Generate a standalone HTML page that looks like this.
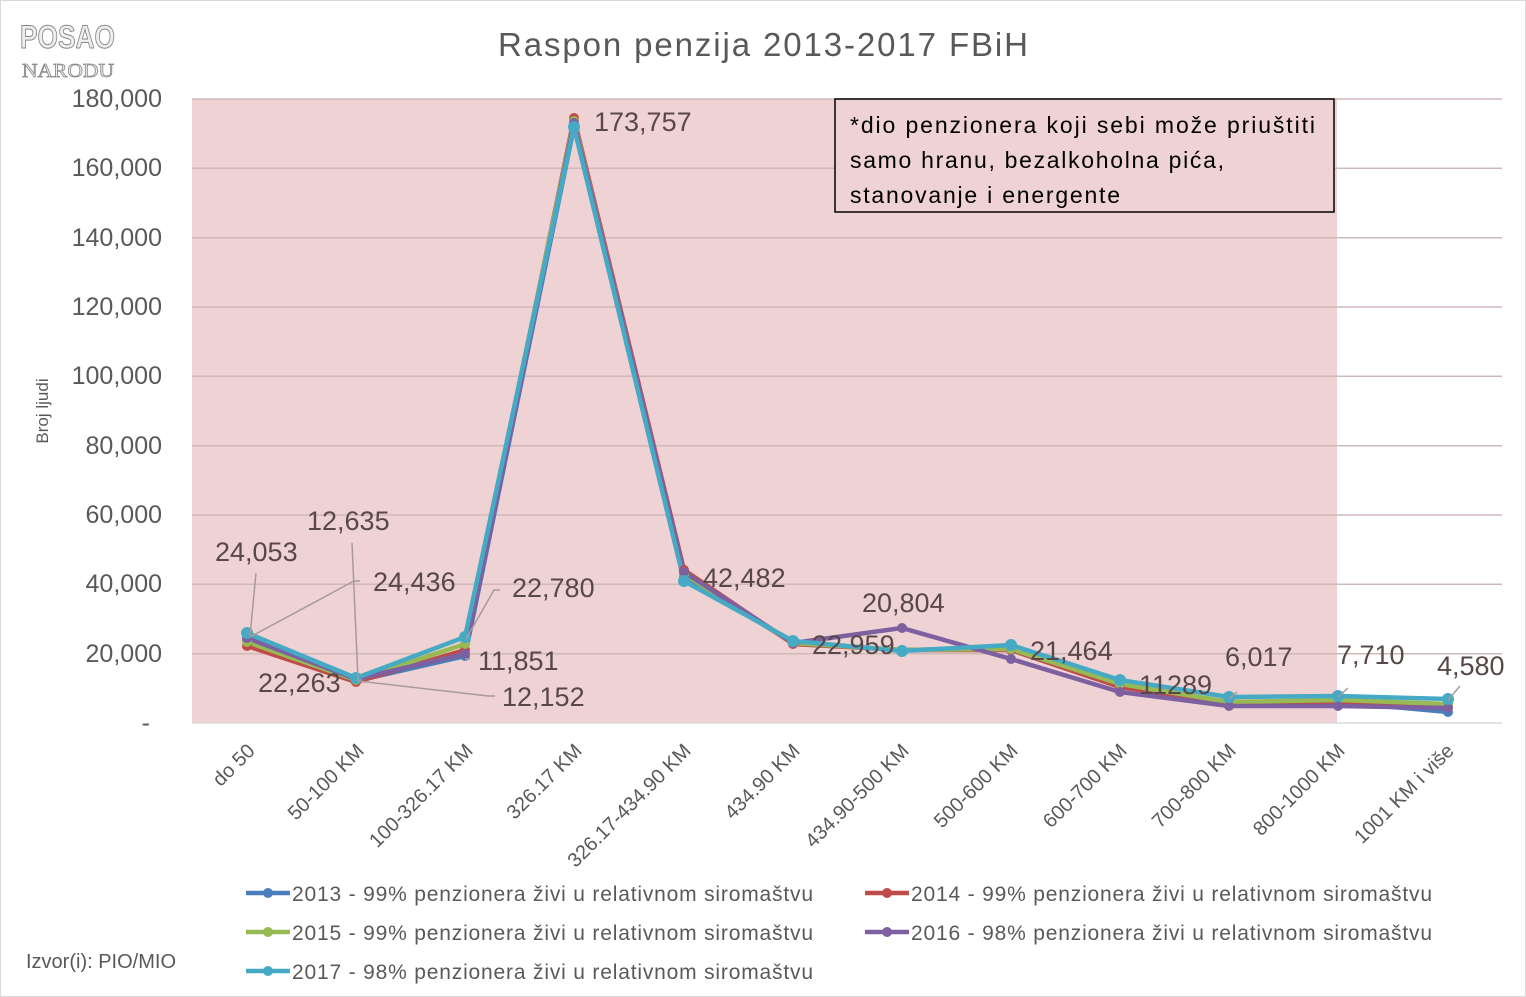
<!DOCTYPE html>
<html><head><meta charset="utf-8"><style>
body{margin:0;background:#fff;}
svg{display:block;font-family:"Liberation Sans","DejaVu Sans",sans-serif;}
</style></head><body>
<svg width="1526" height="997" viewBox="0 0 1526 997" xmlns="http://www.w3.org/2000/svg">
<rect x="0.5" y="0.5" width="1525" height="996" fill="#fff" stroke="#d9d9d9"/>
<text x="20" y="48" font-size="32" font-weight="bold" fill="#eeeeee" stroke="#888" stroke-width="1" lengthAdjust="spacingAndGlyphs" textLength="95">POSAO</text>
<text x="22" y="77" font-size="20" fill="#eeeeee" stroke="#888" stroke-width="0.8" font-family="Liberation Serif,serif" lengthAdjust="spacingAndGlyphs" textLength="92">NARODU</text>
<text x="498" y="56" font-size="33" fill="#595959" textLength="530">Raspon penzija 2013-2017 FBiH</text>
<rect x="192" y="99" width="1145" height="624" fill="#efd3d4"/>
<g stroke="#d0b8b9" stroke-width="1.5">
<line x1="192" y1="99" x2="1502" y2="99"/><line x1="192" y1="168.3" x2="1502" y2="168.3"/>
<line x1="192" y1="237.7" x2="1502" y2="237.7"/><line x1="192" y1="307" x2="1502" y2="307"/>
<line x1="192" y1="376.3" x2="1502" y2="376.3"/><line x1="192" y1="445.7" x2="1502" y2="445.7"/>
<line x1="192" y1="515" x2="1502" y2="515"/><line x1="192" y1="584.3" x2="1502" y2="584.3"/>
<line x1="192" y1="653.7" x2="1502" y2="653.7"/>
</g>
<line x1="192" y1="723" x2="1502" y2="723" stroke="#d9d9d9" stroke-width="1.5"/>
<g font-size="25" fill="#595959" text-anchor="end">
<text x="162" y="107">180,000</text><text x="162" y="176">160,000</text><text x="162" y="246">140,000</text>
<text x="162" y="315">120,000</text><text x="162" y="384">100,000</text><text x="162" y="454">80,000</text>
<text x="162" y="523">60,000</text><text x="162" y="592">40,000</text><text x="162" y="662">20,000</text>
<text x="150" y="731">-</text>
</g>
<text transform="translate(48,411) rotate(-90)" font-size="17" fill="#595959" text-anchor="middle">Broj ljudi</text>
<g font-size="20" fill="#595959" text-anchor="end">
<text transform="translate(256,752) rotate(-45)">do 50</text>
<text transform="translate(365,752) rotate(-45)">50-100 KM</text>
<text transform="translate(474,752) rotate(-45)">100-326.17 KM</text>
<text transform="translate(583,752) rotate(-45)">326.17 KM</text>
<text transform="translate(692,752) rotate(-45)">326.17-434.90 KM</text>
<text transform="translate(801,752) rotate(-45)">434.90 KM</text>
<text transform="translate(910,752) rotate(-45)">434.90-500 KM</text>
<text transform="translate(1019,752) rotate(-45)">500-600 KM</text>
<text transform="translate(1128,752) rotate(-45)">600-700 KM</text>
<text transform="translate(1237,752) rotate(-45)">700-800 KM</text>
<text transform="translate(1346,752) rotate(-45)">800-1000 KM</text>
<text transform="translate(1455,752) rotate(-45)">1001 KM i više</text>
</g>
<g fill="none" stroke-width="4.5" stroke-linejoin="round">
<polyline stroke="#4a7ebb" points="247,640 356,681 465,656 574,127 684,576 793,643 902,650 1011,648 1120,685 1229,702 1338,702 1448,712"/>
<polyline stroke="#be4b48" points="247,646 356,682 465,650 574,118 684,570 793,644 902,650 1011,650 1120,687 1229,704 1338,704 1448,707"/>
<polyline stroke="#98b954" points="247,642 356,680 465,644 574,121 684,574 793,643 902,650 1011,649 1120,684 1229,702 1338,700 1448,704"/>
<polyline stroke="#7d60a0" points="247,638 356,679 465,654 574,123 684,572 793,643 902,628 1011,659 1120,692 1229,706 1338,706 1448,708"/>
<polyline stroke="#46aac5" points="247,633 356,678 465,637 574,127 684,581 793,641 902,651 1011,645 1120,680 1229,697 1338,696 1448,699"/>
</g>
<g>
<g fill="#4a7ebb"><circle cx="247" cy="640" r="5"/><circle cx="356" cy="681" r="5"/><circle cx="465" cy="656" r="5"/><circle cx="574" cy="127" r="5"/><circle cx="684" cy="576" r="5"/><circle cx="793" cy="643" r="5"/><circle cx="902" cy="650" r="5"/><circle cx="1011" cy="648" r="5"/><circle cx="1120" cy="685" r="5"/><circle cx="1229" cy="702" r="5"/><circle cx="1338" cy="702" r="5"/><circle cx="1448" cy="712" r="5"/></g>
<g fill="#be4b48"><circle cx="247" cy="646" r="5"/><circle cx="356" cy="682" r="5"/><circle cx="465" cy="650" r="5"/><circle cx="574" cy="118" r="5"/><circle cx="684" cy="570" r="5"/><circle cx="793" cy="644" r="5"/><circle cx="902" cy="650" r="5"/><circle cx="1011" cy="650" r="5"/><circle cx="1120" cy="687" r="5"/><circle cx="1229" cy="704" r="5"/><circle cx="1338" cy="704" r="5"/><circle cx="1448" cy="707" r="5"/></g>
<g fill="#98b954"><circle cx="247" cy="642" r="5"/><circle cx="356" cy="680" r="5"/><circle cx="465" cy="644" r="5"/><circle cx="574" cy="121" r="5"/><circle cx="684" cy="574" r="5"/><circle cx="793" cy="643" r="5"/><circle cx="902" cy="650" r="5"/><circle cx="1011" cy="649" r="5"/><circle cx="1120" cy="684" r="5"/><circle cx="1229" cy="702" r="5"/><circle cx="1338" cy="700" r="5"/><circle cx="1448" cy="704" r="5"/></g>
<g fill="#7d60a0"><circle cx="247" cy="638" r="5"/><circle cx="356" cy="679" r="5"/><circle cx="465" cy="654" r="5"/><circle cx="574" cy="123" r="5"/><circle cx="684" cy="572" r="5"/><circle cx="793" cy="643" r="5"/><circle cx="902" cy="628" r="5"/><circle cx="1011" cy="659" r="5"/><circle cx="1120" cy="692" r="5"/><circle cx="1229" cy="706" r="5"/><circle cx="1338" cy="706" r="5"/><circle cx="1448" cy="708" r="5"/></g>
<g fill="#46aac5"><circle cx="247" cy="633" r="6"/><circle cx="356" cy="678" r="6"/><circle cx="465" cy="637" r="6"/><circle cx="574" cy="127" r="6"/><circle cx="684" cy="581" r="6"/><circle cx="793" cy="641" r="6"/><circle cx="902" cy="651" r="6"/><circle cx="1011" cy="645" r="6"/><circle cx="1120" cy="680" r="6"/><circle cx="1229" cy="697" r="6"/><circle cx="1338" cy="696" r="6"/><circle cx="1448" cy="699" r="6"/></g>
</g>
<g stroke="#a89a9a" stroke-width="1.5" fill="none">
<polyline points="256,573 250,636"/>
<polyline points="360,581 354,581 250,637"/>
<polyline points="352,543 358,680"/>
<polyline points="500,590 494,590 466,639"/>
<polyline points="495,696 488,696 358,681"/>
<polyline points="470,659 465,659"/>
<line x1="1237" y1="692" x2="1229" y2="699"/>
<line x1="1348" y1="688" x2="1338" y2="697"/>
<line x1="1460" y1="686" x2="1448" y2="700"/>
</g>
<g font-size="27" fill="#584848">
<text x="215" y="561">24,053</text>
<text x="307" y="530">12,635</text>
<text x="373" y="591">24,436</text>
<text x="512" y="597">22,780</text>
<text x="478" y="670">11,851</text>
<text x="258" y="692">22,263</text>
<text x="502" y="706">12,152</text>
<text x="594" y="131">173,757</text>
<text x="703" y="587">42,482</text>
<text x="812" y="654">22,959</text>
<text x="862" y="612">20,804</text>
<text x="1030" y="660">21,464</text>
<text x="1139" y="694">11289</text>
<text x="1225" y="666">6,017</text>
<text x="1337" y="664">7,710</text>
<text x="1437" y="675">4,580</text>
</g>
<rect x="835" y="99" width="499" height="113" fill="#efd3d4" stroke="#000" stroke-width="1.5"/>
<g font-size="23" fill="#000">
<text x="850" y="133" textLength="465">*dio penzionera koji sebi može priuštiti</text>
<text x="850" y="168" textLength="374">samo hranu, bezalkoholna pića,</text>
<text x="850" y="203" textLength="270">stanovanje i energente</text>
</g>
<g font-size="21" fill="#595959">
<line x1="246" y1="893" x2="290" y2="893" stroke="#4a7ebb" stroke-width="4.5"/><circle cx="268" cy="893" r="5" fill="#4a7ebb"/>
<text x="292" y="901" textLength="521">2013 - 99% penzionera živi u relativnom siromaštvu</text>
<line x1="865" y1="893" x2="909" y2="893" stroke="#be4b48" stroke-width="4.5"/><circle cx="887" cy="893" r="5" fill="#be4b48"/>
<text x="911" y="901" textLength="521">2014 - 99% penzionera živi u relativnom siromaštvu</text>
<line x1="246" y1="932" x2="290" y2="932" stroke="#98b954" stroke-width="4.5"/><circle cx="268" cy="932" r="5" fill="#98b954"/>
<text x="292" y="940" textLength="521">2015 - 99% penzionera živi u relativnom siromaštvu</text>
<line x1="865" y1="932" x2="909" y2="932" stroke="#7d60a0" stroke-width="4.5"/><circle cx="887" cy="932" r="5" fill="#7d60a0"/>
<text x="911" y="940" textLength="521">2016 - 98% penzionera živi u relativnom siromaštvu</text>
<line x1="246" y1="971" x2="290" y2="971" stroke="#46aac5" stroke-width="4.5"/><circle cx="268" cy="971" r="5" fill="#46aac5"/>
<text x="292" y="979" textLength="521">2017 - 98% penzionera živi u relativnom siromaštvu</text>
</g>
<text x="26" y="968" font-size="20" fill="#595959">Izvor(i): PIO/MIO</text>
</svg>
</body></html>
